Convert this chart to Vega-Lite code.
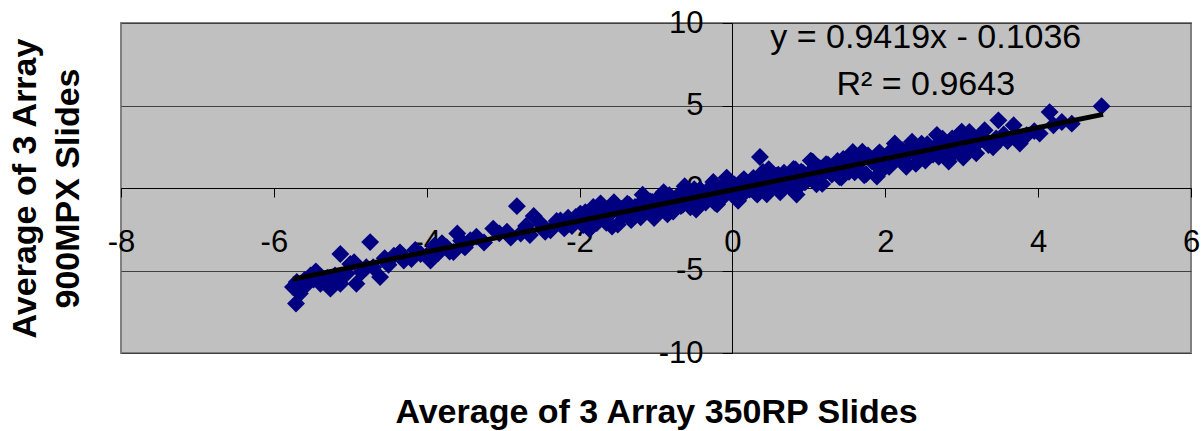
{
  "$schema": "https://vega.github.io/schema/vega-lite/v6.json",
  "width": 1070,
  "height": 330,
  "autosize": {"type": "none"},
  "padding": {"left": 121, "top": 23, "right": 10, "bottom": 78},
  "background": "white",
  "config": {
    "view": {"fill": "#c0c0c0", "stroke": "#808080", "strokeWidth": 2},
    "axis": {"labelFont": "Liberation Sans", "titleFont": "Liberation Sans"},
    "text": {"font": "Liberation Sans"}
  },
  "datasets": {
    "points": [
      {"x":-5.71,"y":-7.0},{"x":-5.75,"y":-6.0},{"x":-5.66,"y":-6.4},{"x":-5.52,"y":-5.3},{"x":-5.39,"y":-5.8},{"x":-5.26,"y":-6.1},{"x":-5.13,"y":-4.0},{"x":-5.13,"y":-5.8},{"x":-5.0,"y":-4.6},{"x":-4.92,"y":-5.8},{"x":-4.74,"y":-3.28},{"x":-4.79,"y":-4.8},{"x":-4.61,"y":-5.4},{"x":-4.43,"y":-4.1},{"x":-4.3,"y":-4.4},{"x":-4.08,"y":-4.0},{"x":-3.95,"y":-4.4},{"x":-3.74,"y":-3.58},{"x":-3.6,"y":-2.76},{"x":-3.65,"y":-3.88},{"x":-3.43,"y":-3.17},{"x":-3.13,"y":-2.46},{"x":-2.82,"y":-1.1},{"x":-2.77,"y":-2.76},{"x":-2.6,"y":-1.7},{"x":-2.38,"y":-2.56},{"x":-2.25,"y":-1.96},{"x":-1.99,"y":-1.55},{"x":-1.82,"y":-1.15},
      {"x":-5.7,"y":-5.7},{"x":-5.58,"y":-5.9},{"x":-5.48,"y":-5.55},
      {"x":-5.6,"y":-5.58},{"x":-5.45,"y":-5.05},{"x":-5.3,"y":-5.45},{"x":-5.2,"y":-5.3},{"x":-5.05,"y":-5.2},{"x":-4.95,"y":-4.5},{"x":-4.85,"y":-5.1},{"x":-4.7,"y":-4.8},{"x":-4.55,"y":-4.25},{"x":-4.5,"y":-4.65},{"x":-4.35,"y":-3.9},{"x":-4.2,"y":-4.3},{"x":-4.15,"y":-3.75},{"x":-4.0,"y":-4.1},{"x":-3.9,"y":-3.5},{"x":-3.85,"y":-3.95},{"x":-3.8,"y":-3.35},{"x":-3.7,"y":-3.85},{"x":-3.55,"y":-3.2},{"x":-3.5,"y":-3.6},{"x":-3.35,"y":-2.95},{"x":-3.25,"y":-3.3},{"x":-3.05,"y":-2.75},{"x":-2.95,"y":-2.65},{"x":-2.9,"y":-3.0},{"x":-2.7,"y":-2.3},{"x":-2.65,"y":-2.85},{"x":-2.5,"y":-2.2},{"x":-2.45,"y":-2.65},{"x":-2.3,"y":-2.0},{"x":-2.2,"y":-2.45},{"x":-2.15,"y":-1.8},{"x":-2.1,"y":-2.3},{"x":-2.05,"y":-1.75},
      {"x":-2.0,"y":-1.64},{"x":-1.95,"y":-2.24},{"x":-1.9,"y":-1.79},{"x":-1.85,"y":-2.4},{"x":-1.8,"y":-1.3},{"x":-1.75,"y":-1.9},{"x":-1.7,"y":-1.45},{"x":-1.65,"y":-2.11},{"x":-1.6,"y":-1.56},{"x":-1.55,"y":-0.86},{"x":-1.5,"y":-2.22},{"x":-1.45,"y":-1.27},{"x":-1.4,"y":-1.52},{"x":-1.35,"y":-1.03},{"x":-1.3,"y":-1.63},{"x":-1.25,"y":-1.18},{"x":-1.2,"y":-1.78},{"x":-1.15,"y":-0.69},{"x":-1.1,"y":-1.29},{"x":-1.05,"y":-0.84},{"x":-1.0,"y":-1.5},{"x":-0.95,"y":-0.95},{"x":-0.9,"y":-0.25},{"x":-0.85,"y":-1.6},{"x":-0.8,"y":-0.66},{"x":-0.75,"y":-0.91},{"x":-0.7,"y":-0.41},{"x":-0.65,"y":-1.02},{"x":-0.6,"y":-0.57},{"x":-0.55,"y":-1.17},{"x":-0.5,"y":-0.07},{"x":-0.45,"y":-0.68},{"x":-0.4,"y":-0.23},{"x":-0.35,"y":-0.88},{"x":-0.3,"y":-0.34},{"x":-0.25,"y":0.36},{"x":-0.2,"y":-0.99},{"x":-0.15,"y":-0.04},{"x":-0.1,"y":-0.3},{"x":-0.05,"y":0.2},{"x":0.0,"y":-0.4},{"x":0.05,"y":0.04},{"x":0.1,"y":-0.56},{"x":0.15,"y":0.54},{"x":0.2,"y":-0.07},{"x":0.25,"y":0.38},{"x":0.3,"y":-0.27},{"x":0.35,"y":0.28},{"x":0.4,"y":0.97},{"x":0.45,"y":-0.38},{"x":0.5,"y":0.57},{"x":0.55,"y":0.31},{"x":0.6,"y":0.81},{"x":0.65,"y":0.21},{"x":0.7,"y":0.66},{"x":0.75,"y":0.05},{"x":0.8,"y":1.15},{"x":0.85,"y":0.55},{"x":0.9,"y":0.99},{"x":0.95,"y":0.34},{"x":1.0,"y":0.89},{"x":1.05,"y":1.59},{"x":1.1,"y":0.23},{"x":1.15,"y":1.18},{"x":1.2,"y":0.93},{"x":1.25,"y":1.42},{"x":1.3,"y":0.82},{"x":1.35,"y":1.27},{"x":1.4,"y":0.67},{"x":1.45,"y":1.76},{"x":1.5,"y":1.16},{"x":1.55,"y":1.61},{"x":1.6,"y":0.95},{"x":1.65,"y":1.5},{"x":1.7,"y":2.2},{"x":1.75,"y":0.84},{"x":1.8,"y":1.79},{"x":1.85,"y":1.54},{"x":1.9,"y":2.04},{"x":1.95,"y":1.43},{"x":2.0,"y":1.88},{"x":2.05,"y":1.28},{"x":2.1,"y":2.37},{"x":2.15,"y":1.77},{"x":2.2,"y":2.22},{"x":2.25,"y":1.57},{"x":2.3,"y":2.11},{"x":2.35,"y":2.81},{"x":2.4,"y":1.46},{"x":2.45,"y":2.4},{"x":2.5,"y":2.15},{"x":2.55,"y":2.65},{"x":2.6,"y":2.05},{"x":2.65,"y":2.49},{"x":2.7,"y":1.89},{"x":2.75,"y":2.99},{"x":2.8,"y":2.38},{"x":2.85,"y":2.83},{"x":2.9,"y":2.18},{"x":2.95,"y":2.73},{"x":3.0,"y":3.42},
      {"x":-1.975,"y":-2.16},{"x":-1.925,"y":-1.47},{"x":-1.875,"y":-2.47},{"x":-1.825,"y":-1.67},{"x":-1.775,"y":-2.13},{"x":-1.725,"y":-0.93},{"x":-1.675,"y":-1.73},{"x":-1.625,"y":-1.33},{"x":-1.575,"y":-2.34},{"x":-1.525,"y":-1.14},{"x":-1.475,"y":-1.49},{"x":-1.425,"y":-1.65},{"x":-1.375,"y":-0.95},{"x":-1.325,"y":-1.95},{"x":-1.275,"y":-1.15},{"x":-1.225,"y":-1.61},{"x":-1.175,"y":-0.41},{"x":-1.125,"y":-1.21},{"x":-1.075,"y":-0.82},{"x":-1.025,"y":-1.82},{"x":-0.975,"y":-0.62},{"x":-0.925,"y":-0.97},{"x":-0.875,"y":-1.13},{"x":-0.825,"y":-0.43},{"x":-0.775,"y":-1.43},{"x":-0.725,"y":-0.64},{"x":-0.675,"y":-1.09},{"x":-0.625,"y":0.11},{"x":-0.575,"y":-0.7},{"x":-0.525,"y":-0.3},{"x":-0.475,"y":-1.3},{"x":-0.425,"y":-0.1},{"x":-0.375,"y":-0.46},{"x":-0.325,"y":-0.61},{"x":-0.275,"y":0.09},{"x":-0.225,"y":-0.92},{"x":-0.175,"y":-0.12},{"x":-0.125,"y":-0.57},{"x":-0.075,"y":0.63},{"x":-0.025,"y":-0.18},{"x":0.025,"y":0.22},{"x":0.075,"y":-0.78},{"x":0.125,"y":0.41},{"x":0.175,"y":0.06},{"x":0.225,"y":-0.09},{"x":0.275,"y":0.61},{"x":0.325,"y":-0.4},{"x":0.375,"y":0.4},{"x":0.425,"y":-0.05},{"x":0.475,"y":1.14},{"x":0.525,"y":0.34},{"x":0.575,"y":0.74},{"x":0.625,"y":-0.26},{"x":0.675,"y":0.93},{"x":0.725,"y":0.58},{"x":0.775,"y":0.43},{"x":0.825,"y":1.12},{"x":0.875,"y":0.12},{"x":0.925,"y":0.92},{"x":0.975,"y":0.46},{"x":1.025,"y":1.66},{"x":1.075,"y":0.86},{"x":1.125,"y":1.26},{"x":1.175,"y":0.25},{"x":1.225,"y":1.45},{"x":1.275,"y":1.1},{"x":1.325,"y":0.94},{"x":1.375,"y":1.64},{"x":1.425,"y":0.64},{"x":1.475,"y":1.44},{"x":1.525,"y":0.98},{"x":1.575,"y":2.18},{"x":1.625,"y":1.38},{"x":1.675,"y":1.77},{"x":1.725,"y":0.77},{"x":1.775,"y":1.97},{"x":1.825,"y":1.62},{"x":1.875,"y":1.46},{"x":1.925,"y":2.16},{"x":1.975,"y":1.16},{"x":2.025,"y":1.95},{"x":2.075,"y":1.5},{"x":2.125,"y":2.7},{"x":2.175,"y":1.9},{"x":2.225,"y":2.29},{"x":2.275,"y":1.29},{"x":2.325,"y":2.49},{"x":2.375,"y":2.13},{"x":2.425,"y":1.98},{"x":2.475,"y":2.68},{"x":2.525,"y":1.67},{"x":2.575,"y":2.47},{"x":2.625,"y":2.02},{"x":2.675,"y":3.22},{"x":2.725,"y":2.41},{"x":2.775,"y":2.81},{"x":2.825,"y":1.81},{"x":2.875,"y":3.0},{"x":2.925,"y":2.65},{"x":2.975,"y":2.5},
      {"x":3.05,"y":2.95},{"x":3.1,"y":2.5},{"x":3.15,"y":3.1},{"x":3.2,"y":2.7},{"x":3.25,"y":3.15},{"x":3.3,"y":2.9},{"x":3.35,"y":2.6},{"x":3.41,"y":2.47},{"x":3.45,"y":3.0},{"x":3.48,"y":4.1},{"x":3.55,"y":3.25},{"x":3.6,"y":2.85},{"x":3.68,"y":3.8},{"x":3.72,"y":3.1},{"x":3.76,"y":2.7},{"x":3.85,"y":3.2},{"x":3.95,"y":3.45},{"x":4.02,"y":3.3},{"x":4.15,"y":4.6},{"x":4.2,"y":3.8},{"x":4.31,"y":4.0},{"x":4.44,"y":3.9},{"x":4.83,"y":4.96},{"x":2.83,"y":1.6},{"x":3.02,"y":1.85},{"x":3.19,"y":2.1},{"x":1.89,"y":0.7},{"x":0.84,"y":-0.4},{"x":0.36,"y":1.88},{"x":3.1,"y":3.4},{"x":3.3,"y":3.5},{"x":3.5,"y":2.9}
    ],
    "trend": [{"x": -5.75, "y": -5.52}, {"x": 4.85, "y": 4.46}],
    "eq": [
      {"label": "y = 0.9419x - 0.1036", "x": 2.53, "y": 9.11},
      {"label": "R² = 0.9643", "x": 2.53, "y": 6.23}
    ]
  },
  "layer": [
    {
      "data": {"name": "points"},
      "mark": {"type": "point", "shape": "diamond", "filled": true, "color": "#000080", "size": 320, "opacity": 1},
      "encoding": {
        "x": {
          "field": "x", "type": "quantitative",
          "scale": {"domain": [-8, 6], "nice": false, "zero": false},
          "axis": {
            "title": "Average of 3 Array 350RP Slides",
            "titleFontSize": 34, "titleFontWeight": "bold", "titleColor": "black",
            "titleBaseline": "top", "titleY": 207,
            "offset": -165,
            "values": [-8, -6, -4, -2, 0, 2, 4, 6],
            "labelExpr": "'' + datum.value",
            "grid": false,
            "domainColor": "black", "domainWidth": 1,
            "tickColor": "black", "tickWidth": 1, "tickSize": 9,
            "labelFontSize": 31, "labelColor": "black", "labelPadding": 30,
            "labelBaseline": "top", "labelFlush": false, "labelOverlap": false
          }
        },
        "y": {
          "field": "y", "type": "quantitative",
          "scale": {"domain": [-10, 10], "nice": false, "zero": false},
          "axis": {
            "title": ["Average of 3 Array", "900MPX Slides"],
            "titleFontSize": 34, "titleFontWeight": "bold", "titleColor": "black",
            "titleBaseline": "middle", "titleLineHeight": 43, "titleX": -707,
            "offset": -611,
            "values": [-10, -5, 0, 5, 10],
            "labelExpr": "'' + datum.value",
            "grid": true, "gridColor": "#404040", "gridWidth": 1,
            "domainColor": "black", "domainWidth": 1,
            "tickColor": "black", "tickWidth": 1, "tickSize": 10,
            "labelFontSize": 31, "labelColor": "black", "labelPadding": 19,
            "labelFlush": false, "labelOverlap": false
          }
        }
      }
    },
    {
      "data": {"name": "trend"},
      "mark": {"type": "line", "color": "black", "strokeWidth": 5},
      "encoding": {
        "x": {"field": "x", "type": "quantitative"},
        "y": {"field": "y", "type": "quantitative"}
      }
    },
    {
      "data": {"name": "eq"},
      "mark": {"type": "text", "fontSize": 34, "color": "black", "align": "center", "baseline": "middle"},
      "encoding": {
        "x": {"field": "x", "type": "quantitative"},
        "y": {"field": "y", "type": "quantitative"},
        "text": {"field": "label", "type": "nominal"}
      }
    }
  ]
}
